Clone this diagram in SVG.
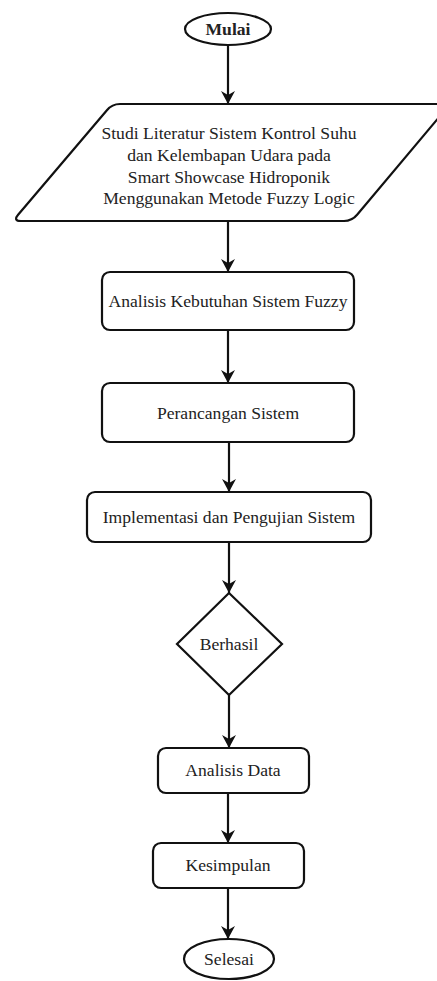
<svg xmlns="http://www.w3.org/2000/svg" width="437" height="981" viewBox="0 0 437 981">
<defs>
<style>
.shape{fill:#fff;stroke:#111;stroke-width:2.2}
.t{font-family:"Liberation Serif","Times New Roman",serif;font-size:17.6px;fill:#222;text-anchor:middle;dominant-baseline:central}
.b{font-weight:bold}
.c{stroke:#111;stroke-width:2.2;fill:none}
</style>
<marker id="ah" markerUnits="userSpaceOnUse" markerWidth="14" markerHeight="14" viewBox="0 0 14 14" refX="13" refY="7" orient="auto">
<path d="M0,0 L13,7 L0,14 L4,7 Z" fill="#111"/>
</marker>
</defs>
<rect width="437" height="981" fill="#fff"/>
<g id="connectors">
<line class="c" x1="228" y1="45" x2="228" y2="104" marker-end="url(#ah)"/>
<line class="c" x1="228" y1="222" x2="228" y2="272" marker-end="url(#ah)"/>
<line class="c" x1="228" y1="330" x2="228" y2="383" marker-end="url(#ah)"/>
<line class="c" x1="229" y1="442" x2="229" y2="492" marker-end="url(#ah)"/>
<line class="c" x1="229" y1="542" x2="229" y2="593" marker-end="url(#ah)"/>
<line class="c" x1="229" y1="695" x2="229" y2="748" marker-end="url(#ah)"/>
<line class="c" x1="228" y1="793" x2="228" y2="843" marker-end="url(#ah)"/>
<line class="c" x1="228" y1="888" x2="228" y2="939" marker-end="url(#ah)"/>
</g>
<g id="mulai">
<ellipse class="shape" cx="228" cy="29" rx="43" ry="16"/>
<text class="t b" x="228" y="29">Mulai</text>
</g>
<g id="studi">
<path class="shape" d="M120,104 L442,104 Q450,104 444.9,110.2 L357.1,214.8 Q352,221 344,221 L21,221 Q13,221 18.1,214.8 L106.9,110.2 Q112,104 120,104 Z"/>
<text class="t" x="229" y="133">Studi Literatur Sistem Kontrol Suhu</text>
<text class="t" x="229" y="155">dan Kelembapan Udara pada</text>
<text class="t" x="229" y="177">Smart Showcase Hidroponik</text>
<text class="t" x="229" y="198">Menggunakan Metode Fuzzy Logic</text>
</g>
<g id="analisis-kebutuhan">
<rect class="shape" x="102" y="272" width="252" height="58" rx="8"/>
<text class="t" x="228" y="301">Analisis Kebutuhan Sistem Fuzzy</text>
</g>
<g id="perancangan">
<rect class="shape" x="102" y="383" width="252" height="59" rx="8"/>
<text class="t" x="228" y="413">Perancangan Sistem</text>
</g>
<g id="implementasi">
<rect class="shape" x="87" y="492" width="284" height="50" rx="8"/>
<text class="t" x="229" y="517">Implementasi dan Pengujian Sistem</text>
</g>
<g id="berhasil">
<path class="shape" d="M229,593 L282,644 L229,695 L177,644 Z"/>
<text class="t" x="229" y="644">Berhasil</text>
</g>
<g id="analisis-data">
<rect class="shape" x="158" y="748" width="151" height="45" rx="8"/>
<text class="t" x="233" y="770">Analisis Data</text>
</g>
<g id="kesimpulan">
<rect class="shape" x="153" y="843" width="151" height="45" rx="8"/>
<text class="t" x="228" y="865">Kesimpulan</text>
</g>
<g id="selesai">
<ellipse class="shape" cx="229" cy="959" rx="45" ry="20"/>
<text class="t" x="229" y="959">Selesai</text>
</g>
</svg>
